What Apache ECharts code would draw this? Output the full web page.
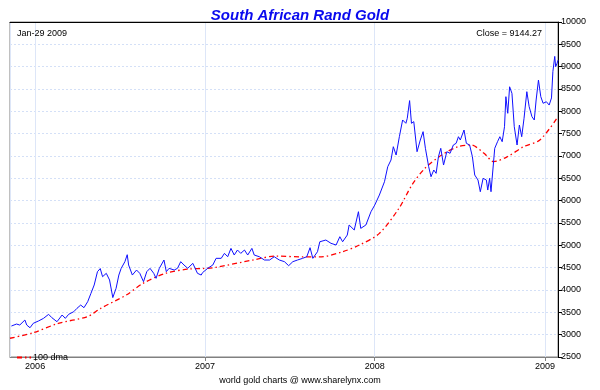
<!DOCTYPE html>
<html>
<head>
<meta charset="utf-8">
<script src="https://cdn.jsdelivr.net/npm/echarts@6/dist/echarts.min.js"></script>
<style>
html,body{margin:0;padding:0;background:#fff;}
#chart{width:600px;height:390px;}
</style>
</head>
<body>
<div id="chart"></div>
<script>
// ---- data ----
var chartTitle = 'South African Rand Gold';
var dateNote = 'Jan-29 2009';
var closeNote = 'Close = 9144.27';
var sourceNote = 'world gold charts @ www.sharelynx.com';
var legendName = '100 dma';

var priceDates = [
 '2005-11-11','2005-11-22','2005-11-29','2005-12-10','2005-12-14','2005-12-21','2005-12-28',
 '2006-01-08','2006-01-19','2006-01-30','2006-02-06','2006-02-17','2006-02-28','2006-03-07','2006-03-14','2006-03-25',
 '2006-04-01','2006-04-09','2006-04-16','2006-04-24','2006-05-01','2006-05-08','2006-05-15','2006-05-21','2006-05-26',
 '2006-06-03','2006-06-10','2006-06-17','2006-06-24','2006-06-30','2006-07-05','2006-07-13','2006-07-18','2006-07-21',
 '2006-07-29','2006-08-07','2006-08-14','2006-08-22','2006-08-29','2006-09-05','2006-09-13','2006-09-18','2006-09-25',
 '2006-10-05','2006-10-10','2006-10-16','2006-10-27','2006-11-03','2006-11-10','2006-11-17','2006-11-25','2006-12-06',
 '2006-12-16','2006-12-24','2006-12-27',
 '2007-01-07','2007-01-18','2007-01-25','2007-02-05','2007-02-12','2007-02-19','2007-02-26','2007-03-05','2007-03-12',
 '2007-03-19','2007-03-27','2007-04-03','2007-04-12','2007-04-17','2007-04-28','2007-05-09','2007-05-20','2007-05-30',
 '2007-06-10','2007-06-21','2007-06-30','2007-07-09','2007-07-19','2007-07-30','2007-08-08','2007-08-15','2007-08-21',
 '2007-08-31','2007-09-05','2007-09-18','2007-09-29','2007-10-10','2007-10-18','2007-10-24','2007-11-03','2007-11-07',
 '2007-11-18','2007-11-27','2007-12-02','2007-12-13','2007-12-24',
 '2008-01-01','2008-01-11','2008-01-22','2008-01-29','2008-02-05','2008-02-10','2008-02-16','2008-02-23','2008-03-01',
 '2008-03-08','2008-03-11','2008-03-16','2008-03-20','2008-03-25','2008-04-01','2008-04-08','2008-04-14','2008-04-19',
 '2008-04-26','2008-05-01','2008-05-07','2008-05-12','2008-05-17','2008-05-22','2008-05-28','2008-06-04','2008-06-11',
 '2008-06-18','2008-06-24','2008-06-29','2008-07-03','2008-07-11','2008-07-16','2008-07-23','2008-07-29','2008-08-03',
 '2008-08-10','2008-08-15','2008-08-21','2008-08-28','2008-08-31','2008-09-04','2008-09-07','2008-09-11','2008-09-15',
 '2008-09-21','2008-09-26','2008-10-01','2008-10-06','2008-10-09','2008-10-13','2008-10-17','2008-10-22','2008-10-27',
 '2008-11-02','2008-11-07','2008-11-12','2008-11-17','2008-11-23','2008-11-28','2008-12-04','2008-12-09','2008-12-13',
 '2008-12-18','2008-12-23','2008-12-28',
 '2009-01-04','2009-01-10','2009-01-15','2009-01-18','2009-01-22','2009-01-24','2009-01-27','2009-01-29'
];
var priceValues = [
 3193,3238,3216,3328,3216,3155,3254,
 3305,3365,3455,3380,3290,3440,3365,3455,3514,
 3590,3663,3604,3738,3925,4112,4410,4480,4298,
 4373,4224,3830,4037,4335,4485,4634,4790,4560,
 4335,4447,4373,4186,4410,4485,4373,4261,4485,
 4671,4410,4485,4447,4485,4634,4560,4485,4597,
 4373,4335,4390,
 4485,4560,4709,4709,4820,4745,4932,4783,4895,
 4820,4895,4783,4932,4783,4745,4671,4671,4745,
 4671,4634,4544,4634,4671,4709,4745,4947,4709,
 4857,5080,5119,5045,5007,5193,5080,5230,5455,
 5343,5753,5380,5455,5753,
 5900,6126,6424,6760,6910,7208,7022,7432,7806,
 7732,7844,8240,7732,7769,7096,7358,7545,7172,
 6760,6536,6686,6612,6984,7172,6798,7096,7060,
 7246,7284,7432,7358,7582,7284,7246,6984,6574,
 6462,6200,6500,6462,6238,6500,6200,6164,7172,
 7320,7432,7320,7656,8328,7956,8550,8403,7656,
 7246,7694,7432,7844,8440,8104,7880,7806,8254,
 8700,8328,8180,
 8215,8141,8300,8890,9230,9000,9075,9144.27
];

var dmaDates = [
 '2005-11-08','2005-12-28','2006-02-20','2006-04-23','2006-05-22','2006-07-16','2006-08-21','2006-10-08','2006-11-28',
 '2006-12-27','2007-01-25','2007-04-14','2007-06-03','2007-07-30','2007-09-04','2007-10-24','2007-11-29',
 '2008-01-11','2008-02-22','2008-03-21','2008-04-18','2008-05-24','2008-06-28','2008-07-26','2008-08-23',
 '2008-09-13','2008-10-12','2008-11-16','2008-12-21','2009-01-29'
];
var dmaValues = [
 2920,3043,3254,3402,3590,3888,4149,4373,4470,
 4480,4508,4671,4760,4740,4740,4857,5007,
 5268,5828,6350,6724,7022,7208,7246,7060,
 6873,6984,7208,7358,7880
];

var yMin = 2500, yMax = 10000, yStep = 500;
var xMin = '2005-11-08', xMax = '2009-01-29';

function pairs(d, v){ return d.map(function(x,i){ return [x, v[i]]; }); }

var chart = echarts.init(document.getElementById('chart'), null, {renderer:'canvas'});
var font = 'Liberation Sans, Arial, sans-serif';
chart.setOption({
  animation: false,
  backgroundColor: '#ffffff',
  title: [
    {text: chartTitle, left: 'center', top: 3,
     textStyle: {color: '#0a0aee', fontSize: 15, fontWeight: 'bold', fontStyle: 'italic', fontFamily: font}},
    {text: dateNote, left: 12, top: 24,
     textStyle: {color: '#000', fontSize: 9, fontWeight: 'normal', fontFamily: font}},
    {text: closeNote, right: 53, top: 24,
     textStyle: {color: '#000', fontSize: 9, fontWeight: 'normal', fontFamily: font}},
    {text: sourceNote, left: 'center', top: 371,
     textStyle: {color: '#000', fontSize: 9, fontWeight: 'normal', fontFamily: font}}
  ],
  legend: {
    data: [legendName], left: 11, top: 348, itemWidth: 14, itemHeight: 6, itemGap: 4,
    itemStyle: {opacity: 0},
    textStyle: {fontSize: 9, color: '#000', fontFamily: font, padding: [0,0,0,-3]}
  },
  grid: {left: 10, right: 42, top: 22, bottom: 33, show: true, borderColor: '#808080', borderWidth: 1},
  xAxis: [{
    type: 'time', min: xMin, max: xMax, splitNumber: 3,
    axisLine: {show: true, lineStyle: {color: '#808080'}},
    axisTick: {show: true, length: 4, lineStyle: {color: '#808080'}},
    axisLabel: {formatter: '{yyyy}', fontSize: 9, color: '#000', fontFamily: font, margin: 5,
                showMinLabel: false, showMaxLabel: false, fontWeight: 'normal'},
    splitLine: {show: true, lineStyle: {color: '#dde6f8', width: 1}},
    minorTick: {show: false}
  }, {
    type: 'time', min: xMin, max: xMax, position: 'top',
    axisLine: {show: true, lineStyle: {color: '#000'}},
    axisTick: {show: false}, axisLabel: {show: false}, splitLine: {show: false}
  }],
  yAxis: {
    type: 'value', position: 'right', min: yMin, max: yMax, interval: yStep,
    axisLine: {show: true, lineStyle: {color: '#000'}},
    axisTick: {show: true, length: 4, lineStyle: {color: '#000'}},
    axisLabel: {fontSize: 9, color: '#000', fontFamily: font, margin: 3,
                formatter: function(v){ return String(v); }},
    splitLine: {show: true, lineStyle: {color: '#d4e0f7', type: [2,2], width: 1}}
  },
  series: [{
    name: 'Close', type: 'line', data: pairs(priceDates, priceValues),
    showSymbol: false, symbol: 'none',
    lineStyle: {color: '#1010ff', width: 1}, z: 3
  }, {
    name: legendName, type: 'line', data: pairs(dmaDates, dmaValues),
    showSymbol: false, symbol: 'none', smooth: 0.3,
    itemStyle: {color: '#ff0000'},
    lineStyle: {color: '#ff0000', width: 1.3, type: [5,3,1.5,3]}, z: 2
  }]
});
</script>
</body>
</html>
